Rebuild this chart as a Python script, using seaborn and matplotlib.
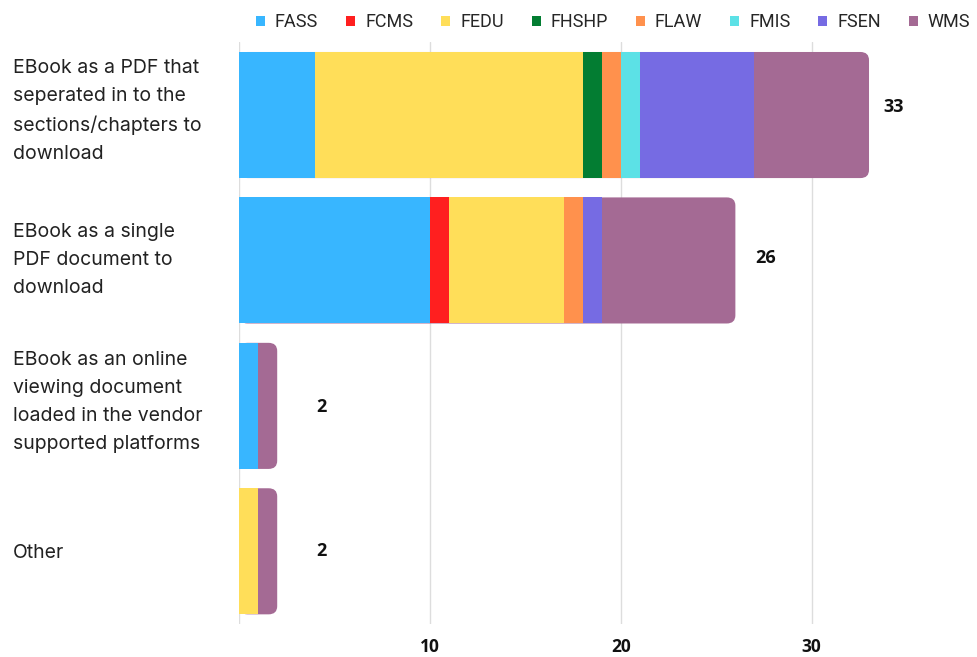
import matplotlib

matplotlib.use("Agg")
import matplotlib.pyplot as plt
import matplotlib.transforms as mtransforms
import pandas as pd
import seaborn as sns
from matplotlib.patches import FancyBboxPatch, Patch

# data
categories = [
    "EBook as a PDF that\nseperated in to the\nsections/chapters to\ndownload",
    "EBook as a single\nPDF document to\ndownload",
    "EBook as an online\nviewing document\nloaded in the vendor\nsupported platforms",
    "Other",
]
faculties = ["FASS", "FCMS", "FEDU", "FHSHP", "FLAW", "FMIS", "FSEN", "WMS"]
fass = [4, 10, 1, 0]
fcms = [0, 1, 0, 0]
fedu = [14, 6, 0, 1]
fhshp = [1, 0, 0, 0]
flaw = [1, 1, 0, 0]
fmis = [1, 0, 0, 0]
fsen = [6, 1, 0, 0]
wms = [6, 7, 1, 1]
colors = ["#38b6ff", "#ff1f1f", "#ffde59", "#037d32", "#ff914d", "#5ce1e6", "#766be3", "#a46a94"]

df = pd.DataFrame(
    {"answer": categories, "FASS": fass, "FCMS": fcms, "FEDU": fedu, "FHSHP": fhshp,
     "FLAW": flaw, "FMIS": fmis, "FSEN": fsen, "WMS": wms}
)
cum = df[faculties].cumsum(axis=1)
totals = cum["WMS"].values

sns.set_style("white")
fig = plt.figure(figsize=(9.78, 6.57), dpi=100)
ax = fig.add_axes([0.2444, 0.0502, 0.732, 0.8854])

# stacked bars: draw cumulative totals from the outermost segment inwards
for i, name in enumerate(reversed(faculties)):
    col = colors[len(faculties) - 1 - i]
    sns.barplot(x=cum[name], y=df["answer"], orient="h", color=col, saturation=1,
                width=0.867, ax=ax, linewidth=0, zorder=2)
    if i == 0:
        # round the right end of the full bars
        for p in list(ax.patches):
            x0, y0, w, h = p.get_x(), p.get_y(), p.get_width(), p.get_height()
            p.remove()
            ax.add_patch(FancyBboxPatch((x0, y0), w, h,
                                        boxstyle="round,pad=0,rounding_size=0.45",
                                        mutation_aspect=0.125, facecolor=col,
                                        edgecolor="none", zorder=2))

label_offsets = [(10, 6), (14, 2), (28, -1), (28, 0)]
for yi, t in enumerate(totals):
    ax.annotate(f"{t}", xy=(t, yi), xytext=label_offsets[yi], textcoords="offset points",
                ha="left", va="center", fontsize=13, fontweight="bold",
                family="Open Sans", color="#111111")

ax.set_xlim(0, 37.5)
ax.set_ylim(3.5, -0.5)
ax.set_xticks([10, 20, 30])
ax.set_xlabel("")
ax.set_ylabel("")
ax.grid(axis="x", color="#dddddd", linewidth=1, zorder=0)
ax.axvline(0, color="#dddddd", linewidth=1, zorder=0)
for s in ax.spines.values():
    s.set_visible(False)

ax.tick_params(axis="x", length=0, pad=10)
for lbl in ax.get_xticklabels():
    lbl.set_fontweight("bold")
    lbl.set_fontsize(12.5)
    lbl.set_family("Open Sans")
    lbl.set_color("#111111")

ax.tick_params(axis="y", length=0, pad=163)
for lbl in ax.get_yticklabels():
    lbl.set_ha("left")
    lbl.set_fontsize(14)
    lbl.set_family("Inter")
    lbl.set_color("#222222")
    lbl.set_linespacing(1.7)
    nlines = lbl.get_text().count("\n")
    shift = mtransforms.ScaledTranslation(0, 2.6 * nlines / 72, fig.dpi_scale_trans)
    lbl.set_transform(lbl.get_transform() + shift)

handles = [Patch(facecolor=c, edgecolor="none") for c in colors]
fig.legend(handles, faculties, loc="center", bbox_to_anchor=(0.627, 0.966), ncol=8,
           frameon=False, handlelength=0.5, handleheight=0.5, handletextpad=0.55,
           columnspacing=1.55, prop={"family": "Roboto", "size": 13})

fig.savefig("out.png", dpi=100, facecolor="white")
